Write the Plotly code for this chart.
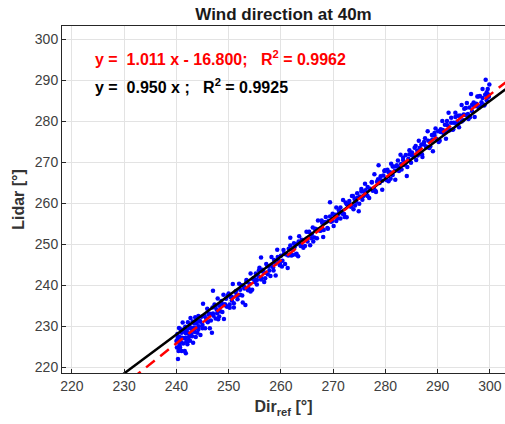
import plotly.graph_objects as go

# Scatter points (Dir_ref vs Lidar) - outer spread
dir_ref_a = [
    240.0, 240.1, 240.2, 240.3, 240.3, 240.4, 240.5, 240.5, 240.6, 240.7, 240.8, 240.9, 241.0, 241.0,
    241.1, 241.2, 241.3, 241.4, 241.5, 241.6, 241.7, 241.8, 241.8, 241.9, 242.0, 242.1, 242.2, 242.3,
    242.4, 242.5, 242.6, 242.7, 242.8, 242.9, 243.0, 243.1, 243.2, 243.3, 243.4, 243.5, 243.6, 243.7,
    243.8, 243.9, 244.0, 244.2, 244.3, 244.5, 244.6, 244.8, 245.0, 245.1,
    245.3, 245.5, 245.7, 245.9, 246.0, 246.2, 246.4, 246.5, 246.8, 246.9, 247.0, 247.1, 247.3, 247.5,
    247.7, 247.9, 248.0, 248.2, 248.4, 248.6, 248.8, 249.0, 249.1, 249.3, 249.5, 249.7, 250.0, 250.2,
    250.4, 250.6, 250.8, 251.0, 251.3, 251.5, 251.7, 252.0, 252.2, 252.5, 252.7, 253.0, 253.2, 253.4,
    253.7, 254.0, 254.2, 254.5, 254.8, 255.0,
    255.2, 255.4, 255.7, 255.9, 256.2, 256.3, 256.5, 256.8, 257.0, 257.2, 257.5, 257.7, 258.0, 258.2,
    258.5, 258.7, 259.0, 259.3, 259.5, 259.8, 260.0, 260.3, 260.5, 260.8, 261.0, 261.3, 261.5, 261.8,
    262.0, 262.3, 262.5, 262.8, 263.0, 263.3, 263.5, 263.8, 264.0, 264.3, 264.6, 264.9,
    265.1, 265.4, 265.6, 265.9, 266.1, 266.4, 266.6, 266.9, 267.1, 267.4, 267.6, 267.9, 268.1, 268.4,
    268.6, 268.9, 269.1, 269.4, 269.6, 269.9, 270.1, 270.4, 270.6, 270.9, 271.1, 271.4, 271.6, 271.9,
    272.1, 272.4, 272.6, 272.9, 273.1, 273.4, 273.6, 273.9, 274.1, 274.4, 274.6, 274.9,
    275.1, 275.4, 275.6, 275.9, 276.1, 276.4, 276.6, 276.9, 277.1, 277.4, 277.6, 277.9, 278.1, 278.4,
    278.7, 278.9, 279.1, 279.4, 279.6, 279.9, 280.1, 280.4, 280.6, 280.9, 281.1, 281.4, 281.6, 281.9,
    282.1, 282.4, 282.6, 282.9, 283.1, 283.4, 283.6, 283.9, 284.1, 284.4, 284.6, 284.9,
    285.1, 285.4, 285.6, 285.9, 286.1, 286.4, 286.6, 286.9, 287.1, 287.4, 287.6, 287.9, 288.1, 288.4,
    288.6, 288.9, 289.1, 289.4, 289.6, 289.9, 290.1, 290.4, 290.6, 290.9, 291.1, 291.4, 291.6, 291.9,
    292.1, 292.4, 292.6, 292.9, 293.1, 293.4, 293.6, 293.9, 294.1, 294.4, 294.6, 294.9, 295.1, 295.4,
    295.6, 295.9, 296.1, 296.4, 296.6, 296.9, 297.1, 297.4, 297.6, 297.9, 298.1, 298.4, 298.6, 298.9,
    299.1, 299.2, 299.4, 299.6, 299.8, 299.9,
]
lidar_a = [
    226.4, 224.8, 228.1, 222.0, 227.3, 224.0, 229.6, 226.0, 227.4, 224.8, 229.3, 226.1, 228.4, 224.0,
    227.2, 230.9, 225.8, 229.2, 227.1, 224.0, 229.9, 223.4, 228.3, 226.2, 229.1, 225.6, 231.0, 228.3,
    227.4, 230.1, 226.5, 232.0, 228.2, 229.6, 227.6, 231.2, 226.0, 229.6, 230.7, 228.6, 232.2, 227.4,
    229.7, 230.8, 228.4, 232.5, 230.0, 231.3, 227.9, 232.3, 230.3, 235.5,
    232.5, 229.5, 231.9, 234.3, 231.0, 233.1, 229.5, 233.0, 228.4, 234.6, 238.7, 232.6, 235.3, 231.9,
    234.1, 236.8, 231.7, 235.0, 233.7, 236.2, 233.5, 237.7, 231.8, 235.4, 236.7, 234.8, 238.0, 234.5,
    237.1, 236.3, 240.3, 234.6, 238.4, 237.5, 236.6, 240.4, 237.7, 240.0, 235.8, 239.6, 235.2, 241.3,
    238.8, 240.3, 242.9, 238.9, 241.8, 240.8,
    242.9, 240.2, 242.2, 244.3, 246.8, 241.7, 243.8, 240.8, 243.1, 245.2, 242.7, 244.6, 242.3, 246.9,
    244.4, 246.2, 242.4, 248.7, 246.1, 244.9, 247.2, 246.0, 248.6, 245.2, 247.7, 244.2, 248.9, 251.6,
    247.3, 248.6, 250.3, 247.5, 250.0, 247.1, 252.0, 249.8, 251.1, 249.2, 251.1, 253.1,
    250.7, 253.1, 249.8, 252.4, 254.1, 251.7, 253.5, 251.5, 255.8, 253.6, 253.3, 255.3, 251.8, 255.4,
    256.7, 254.0, 255.7, 260.3, 255.5, 257.5, 254.5, 257.2, 259.0, 256.4, 258.3, 256.3, 257.9, 260.8,
    257.4, 260.2, 256.6, 259.6, 260.6, 259.2, 261.8, 258.6, 261.1, 260.4, 262.5, 258.1,
    261.7, 263.5, 260.9, 262.9, 264.8, 262.1, 264.0, 261.3, 263.6, 265.2, 263.1, 267.1, 263.1, 265.3,
    269.3, 265.0, 266.6, 263.3, 266.8, 268.1, 266.0, 268.2, 265.4, 267.6, 269.7, 266.9, 269.0, 265.8,
    269.0, 270.5, 268.7, 271.9, 268.3, 270.6, 269.4, 271.8, 266.7, 270.9, 273.0, 269.9,
    272.4, 271.4, 273.6, 270.6, 272.9, 275.3, 272.1, 274.4, 271.3, 274.4, 275.9, 273.7, 277.6, 273.5,
    275.2, 276.7, 272.7, 276.6, 278.3, 275.5, 277.6, 275.3, 277.4, 280.1, 277.2, 279.2, 275.8, 279.1,
    282.1, 278.0, 280.9, 278.0, 279.7, 282.1, 279.4, 281.4, 278.6, 281.4, 284.0, 280.3, 283.1, 281.6,
    284.5, 280.6, 283.4, 286.7, 282.5, 284.6, 281.1, 284.3, 286.1, 283.4, 286.2, 284.7, 287.9, 283.9,
    286.5, 290.2, 285.2, 287.9, 286.5, 289.0,
]

# Scatter points - dense core of the band
dir_ref_b = [
    240.2, 240.6, 241.0, 241.4, 241.8, 242.2, 242.6, 243.0, 243.4, 243.8, 244.2, 244.6, 245.0, 245.4,
    245.8, 246.2, 246.6, 247.0, 247.4, 247.8, 248.2, 248.6, 249.0, 249.4, 249.8, 250.2, 250.6, 251.0,
    251.4, 251.8, 252.2, 252.6, 253.0, 253.4, 253.8, 254.2, 254.6, 255.0, 255.4, 255.8, 256.2, 256.6,
    257.0, 257.4, 257.8, 258.2, 258.6, 259.0, 259.4, 259.8, 260.2, 260.6, 261.0, 261.4, 261.8, 262.2,
    262.6, 263.0, 263.4, 263.8, 264.2, 264.6, 265.0, 265.4, 265.8, 266.2, 266.6, 267.0, 267.4, 267.8,
    268.2, 268.6, 269.0, 269.4, 269.8, 270.2, 270.6, 271.0, 271.4, 271.8, 272.2, 272.6, 273.0, 273.4,
    273.8, 274.2, 274.6, 275.0, 275.4, 275.8, 276.2, 276.6, 277.0, 277.4, 277.8, 278.2, 278.6, 279.0,
    279.4, 279.8, 280.2, 280.6, 281.0, 281.4, 281.8, 282.2, 282.6, 283.0, 283.4, 283.8, 284.2, 284.6,
    285.0, 285.4, 285.8, 286.2, 286.6, 287.0, 287.4, 287.8, 288.2, 288.6, 289.0, 289.4, 289.8, 290.2,
    290.6, 291.0, 291.4, 291.8, 292.2, 292.6, 293.0, 293.4, 293.8, 294.2, 294.6, 295.0, 295.4, 295.8,
    296.2, 296.6, 297.0, 297.4, 297.8, 298.2, 298.6, 299.0, 299.4, 299.8,
]
lidar_b = [
    226.8, 225.4, 227.1, 228.7, 227.2, 226.4, 229.5, 229.3, 229.1, 231.5, 229.2, 231.1, 229.5, 232.5,
    231.4, 232.8, 231.4, 233.1, 234.7, 233.2, 232.4, 235.5, 235.3, 235.1, 237.5, 235.3, 237.2, 235.6,
    238.6, 237.5, 238.9, 237.5, 239.2, 240.8, 239.3, 238.5, 241.6, 241.5, 241.3, 243.7, 241.4, 243.3,
    241.7, 244.7, 243.6, 245.0, 243.6, 245.3, 246.9, 245.4, 244.6, 247.7, 247.5, 247.3, 249.7, 247.4,
    249.3, 247.7, 250.7, 249.6, 251.0, 249.6, 251.4, 253.0, 251.5, 250.7, 253.8, 253.6, 253.4, 255.8,
    253.5, 255.4, 253.8, 256.8, 255.7, 257.1, 255.7, 257.4, 259.0, 257.5, 256.7, 259.8, 259.6, 259.4,
    261.8, 259.5, 261.4, 259.9, 262.9, 261.8, 263.2, 261.8, 263.5, 265.1, 263.6, 262.8, 265.9, 265.7,
    265.5, 267.9, 265.7, 267.6, 266.0, 269.0, 267.9, 269.3, 267.9, 269.6, 271.2, 269.7, 268.9, 272.0,
    271.8, 271.6, 274.0, 271.7, 273.6, 272.0, 275.0, 273.9, 275.3, 273.9, 275.6, 277.2, 275.7, 275.0,
    278.1, 277.9, 277.7, 280.1, 277.8, 279.7, 278.1, 281.1, 280.0, 281.4, 280.0, 281.7, 283.3, 281.8,
    281.0, 284.1, 283.9, 283.7, 286.1, 283.8, 285.7, 284.1, 287.1, 286.0,
]

dir_ref = dir_ref_a + dir_ref_b
lidar = lidar_a + lidar_b

# Fit results
fit_slope, fit_intercept, fit_r2 = 1.011, -16.800, 0.9962
orig_slope, orig_r2 = 0.950, 0.9925
line_x = [218.0, 303.0]

x_ticks = [220, 230, 240, 250, 260, 270, 280, 290, 300]
y_ticks = [220, 230, 240, 250, 260, 270, 280, 290, 300]

fig = go.Figure()
fig.add_trace(go.Scatter(
    x=dir_ref, y=lidar, mode="markers",
    marker=dict(color="#0000ff", size=4.5, line=dict(width=0)),
    showlegend=False, hoverinfo="skip"))
fig.add_trace(go.Scatter(
    x=line_x, y=[orig_slope * v for v in line_x], mode="lines",
    line=dict(color="black", width=2.5), showlegend=False, hoverinfo="skip"))
fig.add_trace(go.Scatter(
    x=line_x, y=[fit_slope * v + fit_intercept for v in line_x], mode="lines",
    line=dict(color="#ff0000", width=2.5, dash="11px,7px"), showlegend=False, hoverinfo="skip"))

font_family = "Liberation Sans, Arial, sans-serif"
axis_common = dict(
    showgrid=True, gridcolor="#e3e3e3", gridwidth=1,
    showline=True, linecolor="#262626", linewidth=1, mirror=True,
    ticks="inside", ticklen=4, tickcolor="#262626",
    tickfont=dict(size=14, color="#404040", family=font_family),
    zeroline=False, automargin=False,
)
fig.update_layout(
    width=505, height=424,
    margin=dict(l=62, r=0, t=26, b=51),
    paper_bgcolor="white", plot_bgcolor="white",
    title=dict(text="<b>Wind direction at 40m</b>", x=0.5, xanchor="center",
               xref="paper", y=0.966, yref="container", yanchor="middle",
               font=dict(size=17, color="#1a1a1a", family=font_family)),
    xaxis=dict(range=[218.1, 302.9], tickvals=x_ticks,
               title=dict(text="<b>Dir<sub>ref</sub> [°]</b>", standoff=8,
                          font=dict(size=16, color="#333333", family=font_family)),
               **axis_common),
    yaxis=dict(range=[218.6, 303.3], tickvals=y_ticks,
               title=dict(text="<b>Lidar [°]</b>", standoff=6,
                          font=dict(size=16, color="#333333", family=font_family)),
               **axis_common),
    showlegend=False,
)
fig.add_annotation(
    x=224.0, y=295.4, xref="x", yref="y", xanchor="left", yanchor="middle",
    text=(f"<b>y =&nbsp; {fit_slope:.3f} x - {abs(fit_intercept):.3f};&nbsp;&nbsp; "
          f"R<sup>2</sup> = {fit_r2:.4f}</b>"),
    showarrow=False, font=dict(size=16, color="#ff0000", family=font_family))
fig.add_annotation(
    x=224.0, y=288.6, xref="x", yref="y", xanchor="left", yanchor="middle",
    text=f"<b>y =&nbsp; {orig_slope:.3f} x ;&nbsp;&nbsp; R<sup>2</sup> = {orig_r2:.4f}</b>",
    showarrow=False, font=dict(size=16, color="#000000", family=font_family))

fig.write_html("out.html", config={"displayModeBar": False},
               post_script="document.body.style.margin='0';document.body.style.overflow='hidden';")
